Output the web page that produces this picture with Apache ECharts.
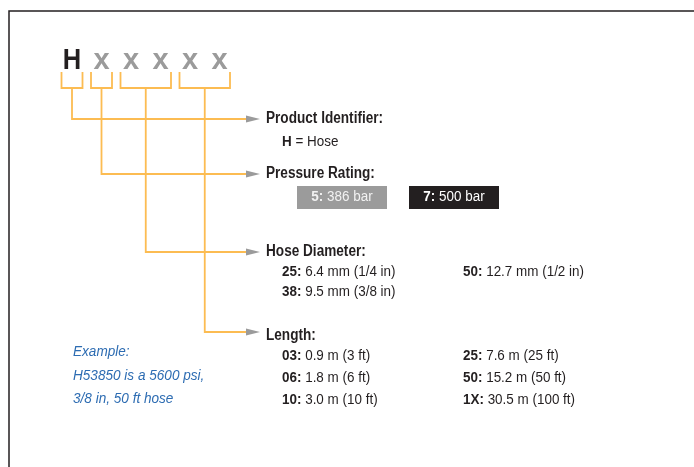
<!DOCTYPE html>
<html>
<head>
<meta charset="utf-8">
<title>Hose part number</title>
<script src="https://cdn.jsdelivr.net/npm/echarts@6/dist/echarts.min.js"></script>
<style>
  html, body { margin: 0; padding: 0; background: #fff; }
  #chart { width: 694px; height: 467px; }
</style>
</head>
<body>
<div id="chart"></div>
<script>
// 型号组成 H x x x x x
var codeChars = ['H', 'x', 'x', 'x', 'x', 'x'];
var groupSpans = [[0, 0], [1, 1], [2, 3], [4, 5]];
var groupTitles = ['Product Identifier:', 'Pressure Rating:', 'Hose Diameter:', 'Length:'];

var identifierCodes = ['H'];
var identifierNames = ['Hose'];
var pressureCodes = ['5:', '7:'];
var pressureValues = ['386 bar', '500 bar'];
var diameterCodes = ['25:', '38:', '50:'];
var diameterValues = ['6.4 mm (1/4 in)', '9.5 mm (3/8 in)', '12.7 mm (1/2 in)'];
var lengthCodes = ['03:', '06:', '10:', '25:', '50:', '1X:'];
var lengthValues = ['0.9 m (3 ft)', '1.8 m (6 ft)', '3.0 m (10 ft)', '7.6 m (25 ft)', '15.2 m (50 ft)', '30.5 m (100 ft)'];
var exampleLines = ['Example:', 'H53850 is a 5600 psi,', '3/8 in, 50 ft hose'];

// 版面参数
var FONT = '"Liberation Sans", Arial, Helvetica, sans-serif';
var charX0 = 72, charStep = 29.5, charY = 61;
var bracketTop = 72, bracketBottom = 88, bracketPad = 10.5;
var arrowY = [119, 174, 252, 332];
var titleY = [119, 174, 252, 336];
var arrowEnd = 247, arrowTip = 260, titleX = 266;
var colX = [282, 463];
var orange = '#fcbc52', grey = '#9b9b9b', ink = '#231f20', blue = '#2d6cb2';

var myChart = echarts.init(document.getElementById('chart'));

function richLine(code, value) {
  return '{b|' + code + '}{n| ' + value + '}';
}

function renderItem(params, api) {
  function pt(x, y) { return api.coord([x, y]); }
  var children = [];
  var richStyle = {
    b: { fontSize: 14, fontWeight: 'bold', fontFamily: FONT, fill: ink },
    n: { fontSize: 14, fontFamily: FONT, fill: ink }
  };
  function optText(x, y, text) {
    var p = pt(x, y);
    children.push({
      type: 'text', x: p[0], y: p[1], scaleX: 0.96,
      style: { text: text, rich: richStyle, verticalAlign: 'middle', align: 'left' }
    });
  }

  // 外框
  children.push({
    type: 'polyline',
    shape: { points: [pt(9, 467), pt(9, 11), pt(694, 11)] },
    style: { stroke: ink, lineWidth: 1.5, fill: null }
  });

  // 型号字母
  codeChars.forEach(function (c, i) {
    var p = pt(charX0 + i * charStep, charY);
    children.push({
      type: 'text', x: p[0], y: p[1], scaleX: i === 0 ? 0.88 : 1,
      style: {
        text: c, fontSize: 29, fontWeight: 'bold', fontFamily: FONT,
        fill: i === 0 ? ink : grey, align: 'center', verticalAlign: 'middle'
      }
    });
  });

  // 括号 + 引线 + 箭头 + 标题
  groupSpans.forEach(function (s, k) {
    var l = charX0 + s[0] * charStep - bracketPad;
    var r = charX0 + s[1] * charStep + bracketPad;
    var m = (l + r) / 2;
    children.push({
      type: 'polyline',
      shape: { points: [pt(l, bracketTop), pt(l, bracketBottom), pt(r, bracketBottom), pt(r, bracketTop)] },
      style: { stroke: orange, lineWidth: 1.8, fill: null }
    });
    children.push({
      type: 'polyline',
      shape: { points: [pt(m, bracketBottom), pt(m, arrowY[k]), pt(arrowEnd, arrowY[k])] },
      style: { stroke: orange, lineWidth: 1.8, fill: null }
    });
    children.push({
      type: 'polygon',
      shape: { points: [pt(arrowEnd - 1, arrowY[k] - 3.5), pt(arrowTip, arrowY[k]), pt(arrowEnd - 1, arrowY[k] + 3.5)] },
      style: { fill: grey }
    });
    var tp = pt(titleX, titleY[k]);
    children.push({
      type: 'text', x: tp[0], y: tp[1], scaleX: 0.85,
      style: {
        text: groupTitles[k], fontSize: 16, fontWeight: 'bold', fontFamily: FONT,
        fill: ink, align: 'left', verticalAlign: 'middle'
      }
    });
  });

  // Product Identifier
  identifierCodes.forEach(function (c, i) {
    optText(colX[0], 142, '{b|' + c + '}{n| = ' + identifierNames[i] + '}');
  });

  // Pressure Rating 方块
  var boxX = [297, 409], boxFill = [grey, ink], boxText = ['#f2f2f2', '#ffffff'];
  pressureCodes.forEach(function (c, i) {
    var a = pt(boxX[i], 186), size = api.size([90, 23]);
    children.push({
      type: 'rect',
      shape: { x: a[0], y: a[1], width: size[0], height: size[1] },
      style: { fill: boxFill[i] }
    });
    var cp = pt(boxX[i] + 45, 197.5);
    children.push({
      type: 'text', x: cp[0], y: cp[1], scaleX: 0.96,
      style: {
        text: richLine(c, pressureValues[i]),
        rich: {
          b: { fontSize: 14, fontWeight: 'bold', fontFamily: FONT, fill: boxText[i] },
          n: { fontSize: 14, fontFamily: FONT, fill: boxText[i] }
        },
        align: 'center', verticalAlign: 'middle'
      }
    });
  });

  // Hose Diameter
  diameterCodes.forEach(function (c, i) {
    optText(colX[Math.floor(i / 2)], 272 + (i % 2) * 20.5, richLine(c, diameterValues[i]));
  });

  // Length
  lengthCodes.forEach(function (c, i) {
    optText(colX[Math.floor(i / 3)], 356 + (i % 3) * 22.3, richLine(c, lengthValues[i]));
  });

  // Example
  exampleLines.forEach(function (t, i) {
    var p = pt(73, 352.5 + i * 23.3);
    children.push({
      type: 'text', x: p[0], y: p[1], scaleX: 0.97,
      style: {
        text: t, fontSize: 14, fontStyle: 'italic', fontFamily: FONT,
        fill: blue, align: 'left', verticalAlign: 'middle'
      }
    });
  });

  return { type: 'group', children: children };
}

var option = {
  animation: false,
  grid: { left: 0, right: 0, top: 0, bottom: 0 },
  xAxis: { type: 'value', min: 0, max: 694, show: false },
  yAxis: { type: 'value', min: 0, max: 467, inverse: true, show: false },
  series: [{
    type: 'custom',
    coordinateSystem: 'cartesian2d',
    silent: true,
    clip: false,
    data: [[0, 0]],
    renderItem: renderItem
  }]
};

myChart.setOption(option);
</script>
</body>
</html>
